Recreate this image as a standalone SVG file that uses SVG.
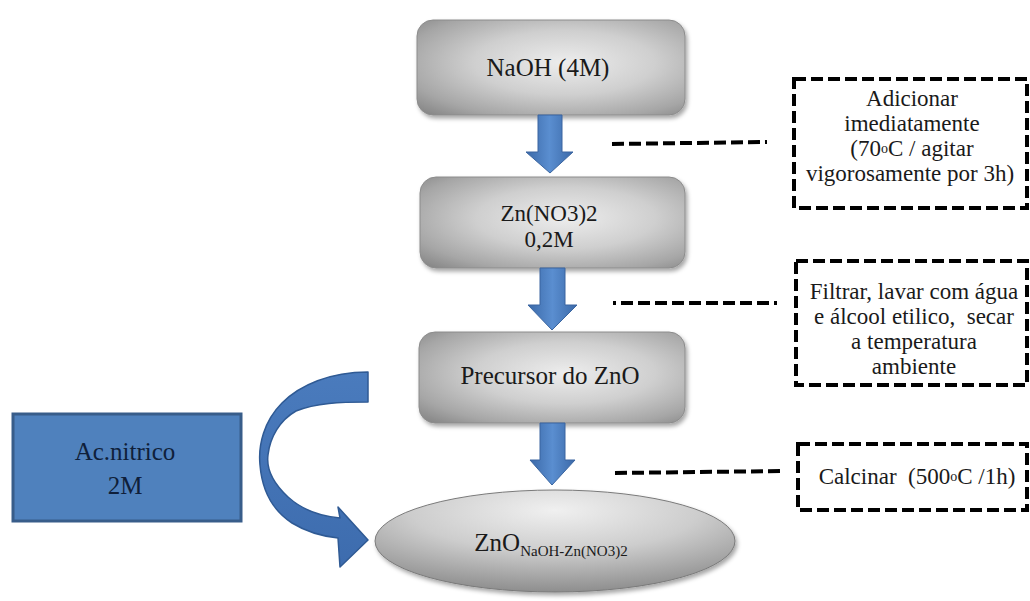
<svg xmlns="http://www.w3.org/2000/svg" width="1030" height="601" viewBox="0 0 1030 601">
  <defs>
    <radialGradient id="grayBox" cx="0.55" cy="0.45" r="0.75">
      <stop offset="0" stop-color="#ededed"/>
      <stop offset="0.45" stop-color="#cfcfcf"/>
      <stop offset="0.8" stop-color="#a6a6a6"/>
      <stop offset="1" stop-color="#858585"/>
    </radialGradient>
    <radialGradient id="grayEllipse" cx="0.5" cy="0.2" r="0.8">
      <stop offset="0" stop-color="#f0f0f0"/>
      <stop offset="0.5" stop-color="#cdcdcd"/>
      <stop offset="1" stop-color="#8e8e8e"/>
    </radialGradient>
    <linearGradient id="blueArrow" x1="0" y1="0" x2="1" y2="0">
      <stop offset="0" stop-color="#3b69a8"/>
      <stop offset="0.5" stop-color="#5a8ed0"/>
      <stop offset="1" stop-color="#3b69a8"/>
    </linearGradient>
    <linearGradient id="blueCurve" x1="0" y1="0" x2="0" y2="1">
      <stop offset="0" stop-color="#4a7bbd"/>
      <stop offset="1" stop-color="#3d6cae"/>
    </linearGradient>
    <filter id="shadow" x="-10%" y="-10%" width="125%" height="135%">
      <feDropShadow dx="2" dy="3" stdDeviation="2" flood-color="#000" flood-opacity="0.35"/>
    </filter>
    <style>
      text { font-family: "Liberation Serif", Tinos, "Times New Roman", "DejaVu Serif", serif; }
      .step { fill: url(#grayBox); stroke: #8c8c8c; stroke-width: 1; filter: url(#shadow); }
      .label { font-size: 25px; fill: #1a1a1a; text-anchor: middle; }
      .small { font-size: 23px; }
      .dark { fill: #0f1f3a; }
      .note { fill: #ffffff; stroke: #000; stroke-width: 4; stroke-dasharray: 12 5; }
      .lead { fill: none; stroke: #000; stroke-width: 4; stroke-dasharray: 12 5; }
      .down { fill: url(#blueArrow); stroke: #3a65a0; stroke-width: 1; }
    </style>
  </defs>

  <!-- process steps -->
  <g id="naoh">
    <rect class="step" x="417" y="20" width="268" height="95" rx="16"/>
    <text class="label" x="548" y="76">NaOH (4M)</text>
  </g>
  <g id="zn-nitrate">
    <rect class="step" x="420" y="177" width="265" height="91" rx="16"/>
    <text class="label small" x="549" y="221">Zn(NO3)2</text>
    <text class="label small" x="549" y="247">0,2M</text>
  </g>
  <g id="precursor">
    <rect class="step" x="419" y="332" width="266" height="91" rx="16"/>
    <text class="label" x="550" y="384">Precursor do ZnO</text>
  </g>
  <g id="zno">
    <ellipse cx="555" cy="541" rx="180" ry="51" fill="url(#grayEllipse)" stroke="#7a7a7a" stroke-width="1" filter="url(#shadow)"/>
    <text class="label" x="551" y="551">ZnO<tspan font-size="15" dy="5">NaOH-Zn(NO3)2</tspan></text>
  </g>

  <!-- nitric acid input -->
  <g id="acido-nitrico">
    <rect x="13" y="414" width="228" height="107" fill="#4f81bd" stroke="#385d8a" stroke-width="3"/>
    <text class="label dark" x="125" y="460">Ac.nitrico</text>
    <text class="label dark" x="125" y="494">2M</text>
  </g>

  <!-- side notes -->
  <g id="nota-adicionar">
    <rect class="note" x="794" y="79" width="233" height="129"/>
    <text class="label small" x="912" y="106">Adicionar</text>
    <text class="label small" x="912" y="131">imediatamente</text>
    <text class="label small" x="912" y="156">(70<tspan font-size="14" dy="-3">o</tspan><tspan dy="3">C / agitar</tspan></text>
    <text class="label small" x="910" y="181">vigorosamente por 3h)</text>
  </g>
  <g id="nota-filtrar">
    <rect class="note" x="796" y="261" width="231" height="124"/>
    <text class="label small" x="914" y="299">Filtrar, lavar com água</text>
    <text class="label small" x="914" y="324" xml:space="preserve">e álcool etilico,  secar</text>
    <text class="label small" x="914" y="349">a temperatura</text>
    <text class="label small" x="914" y="374">ambiente</text>
  </g>
  <g id="nota-calcinar">
    <rect class="note" x="798" y="444" width="229" height="66"/>
    <text class="label small" x="917" y="484" xml:space="preserve">Calcinar  (500<tspan font-size="14" dy="-3">o</tspan><tspan dy="3">C /1h)</tspan></text>
  </g>

  <!-- connectors -->
  <g id="connectors">
    <path class="down" d="M538,115 H562 V152 H573 L550,173 L526,152 H538 Z"/>
    <path class="down" d="M540,268 H565 V305 H577 L552,330 L528,305 H540 Z"/>
    <path class="down" d="M540,423 H565 V460 H575 L552,485 L530,460 H540 Z"/>
    <path d="M368,372 C330,372 300,385 282,403 C264,421 258,445 260,465 C262,490 272,510 292,523 C305,531 320,536 338,538 L340,567 L368,540 L338,507 L340,518 C318,516 300,508 288,497 C274,484 266,470 268,455 C270,437 280,420 296,411 C316,403 340,402 368,402 Z" fill="url(#blueCurve)" stroke="#2f5a94" stroke-width="1.5" stroke-linejoin="round"/>
    <line class="lead" x1="612" y1="144" x2="767" y2="142"/>
    <line class="lead" x1="613" y1="303" x2="777" y2="303" stroke-dashoffset="9"/>
    <line class="lead" x1="615" y1="473" x2="783" y2="471"/>
  </g>
</svg>
